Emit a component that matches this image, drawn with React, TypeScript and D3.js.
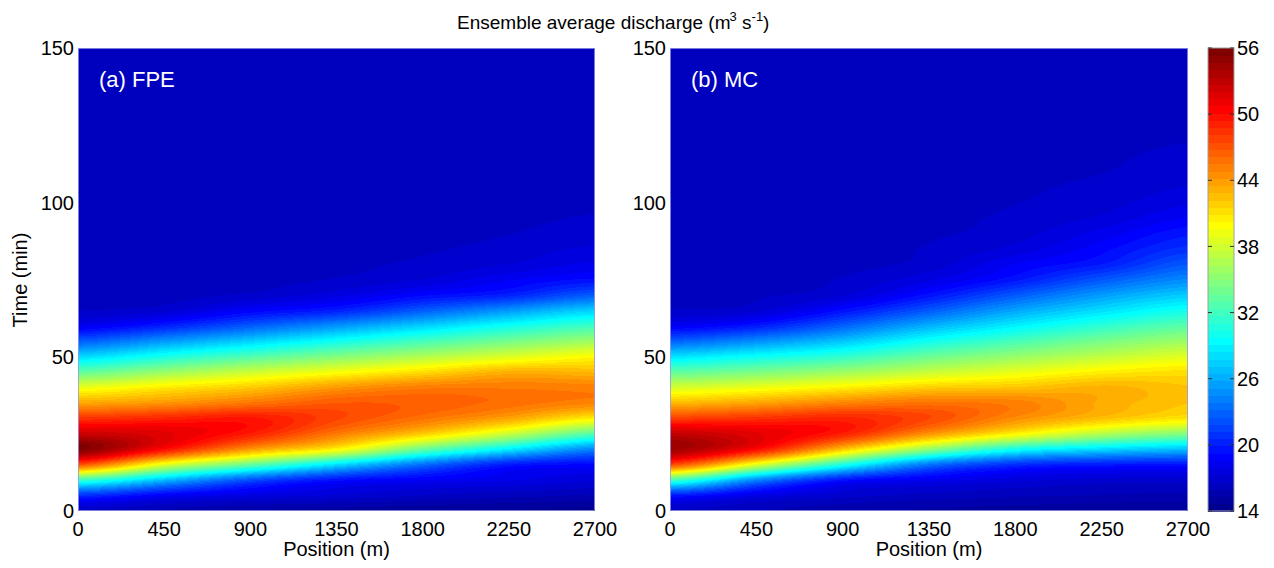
import React, { useMemo } from "react";
import * as d3 from "d3";

// grid nodes
const positions = [0, 450, 900, 1350, 1800, 2250, 2700];
const times = [
  0, 5, 10, 15, 20, 25, 30, 35, 40, 45, 50, 55, 60, 65, 70, 75, 80, 85, 90, 95,
  100, 105, 110, 115, 120, 125, 130, 135, 140, 145, 150,
];
const timeTicks = [0, 50, 100, 150];
const cbarTicks = [14, 20, 26, 32, 38, 44, 50, 56];

// (a) FPE, discharge (m3/s) at each position, one value per time node
const fpe0 = [16.5, 20.8, 31.8, 47.1, 55.6, 52.6, 48.4, 43.6, 39.1, 33.4, 27.9, 22.7, 18.3, 16.6, 16.2, 16.2, 16.2, 16.2, 16.2, 16.2, 16.2, 16.2, 16.2, 16.2, 16.2, 16.2, 16.2, 16.2, 16.2, 16.2, 16.2];
const fpe450 = [15.8, 18.7, 26.7, 38.8, 50.0, 51.6, 49.0, 44.3, 40.7, 35.7, 30.4, 25.2, 20.1, 17.1, 16.3, 16.2, 16.2, 16.2, 16.2, 16.2, 16.2, 16.2, 16.2, 16.2, 16.2, 16.2, 16.2, 16.2, 16.2, 16.2, 16.2];
const fpe900 = [15.3, 17.7, 22.1, 33.5, 44.1, 49.3, 49.6, 45.6, 42.1, 37.8, 32.7, 27.6, 22.6, 18.8, 16.8, 16.3, 16.2, 16.2, 16.2, 16.2, 16.2, 16.2, 16.2, 16.2, 16.2, 16.2, 16.2, 16.2, 16.2, 16.2, 16.2];
const fpe1350 = [15.0, 17.2, 19.5, 28.2, 40.2, 45.4, 47.6, 46.8, 44.1, 39.6, 34.8, 30.0, 25.0, 20.1, 17.7, 16.7, 16.4, 16.2, 16.2, 16.2, 16.2, 16.2, 16.2, 16.2, 16.2, 16.2, 16.2, 16.2, 16.2, 16.2, 16.2];
const fpe1800 = [14.8, 16.6, 18.6, 23.4, 33.7, 42.0, 45.7, 46.6, 45.3, 41.3, 36.7, 32.2, 27.5, 22.6, 19.1, 17.3, 16.8, 16.5, 16.3, 16.2, 16.2, 16.2, 16.2, 16.2, 16.2, 16.2, 16.2, 16.2, 16.2, 16.2, 16.2];
const fpe2250 = [14.6, 16.2, 18.0, 19.9, 28.8, 37.7, 43.6, 45.9, 45.4, 43.1, 38.5, 34.2, 29.9, 25.1, 20.2, 18.5, 17.3, 16.9, 16.6, 16.4, 16.2, 16.2, 16.2, 16.2, 16.2, 16.2, 16.2, 16.2, 16.2, 16.2, 16.2];
const fpe2700 = [14.4, 15.9, 17.4, 19.1, 24.4, 32.9, 40.5, 45.0, 45.2, 42.8, 40.0, 35.9, 31.9, 27.5, 22.6, 19.4, 18.1, 17.4, 17.0, 16.7, 16.4, 16.2, 16.2, 16.2, 16.2, 16.2, 16.2, 16.2, 16.2, 16.2, 16.2];

// (b) MC
const mc0 = [16.5, 19.9, 32.2, 47.5, 54.4, 52.9, 48.0, 42.8, 38.2, 33.3, 28.3, 22.9, 18.5, 16.7, 16.2, 16.2, 16.2, 16.2, 16.2, 16.2, 16.2, 16.2, 16.2, 16.2, 16.2, 16.2, 16.2, 16.2, 16.2, 16.2, 16.2];
const mc450 = [16.0, 17.9, 24.5, 38.8, 50.1, 51.5, 48.5, 43.7, 39.2, 34.5, 29.8, 24.8, 19.9, 17.1, 16.5, 16.2, 16.2, 16.2, 16.2, 16.2, 16.2, 16.2, 16.2, 16.2, 16.2, 16.2, 16.2, 16.2, 16.2, 16.2, 16.2];
const mc900 = [15.5, 16.9, 19.6, 30.5, 42.3, 49.2, 49.0, 45.0, 40.5, 35.9, 31.4, 27.1, 22.9, 19.4, 17.2, 16.7, 16.4, 16.2, 16.2, 16.2, 16.2, 16.2, 16.2, 16.2, 16.2, 16.2, 16.2, 16.2, 16.2, 16.2, 16.2];
const mc1350 = [15.2, 16.4, 18.3, 23.7, 35.4, 44.3, 47.5, 45.7, 41.9, 37.6, 33.8, 30.0, 26.2, 22.5, 19.5, 17.8, 16.9, 16.7, 16.5, 16.35, 16.2, 16.2, 16.2, 16.2, 16.2, 16.2, 16.2, 16.2, 16.2, 16.2, 16.2];
const mc1800 = [15.0, 16.1, 17.5, 20.7, 30.1, 40.3, 44.6, 45.2, 42.3, 39.0, 35.6, 32.3, 28.9, 25.7, 22.5, 19.7, 18.6, 17.5, 17.0, 16.8, 16.6, 16.5, 16.4, 16.3, 16.2, 16.2, 16.2, 16.2, 16.2, 16.2, 16.2];
const mc2250 = [14.8, 15.9, 17.0, 19.9, 28.0, 36.8, 42.5, 43.4, 43.1, 40.5, 37.3, 34.3, 31.2, 28.1, 25.3, 22.4, 19.9, 19.0, 18.2, 17.4, 17.0, 16.8, 16.6, 16.5, 16.4, 16.3, 16.2, 16.2, 16.2, 16.2, 16.2];
const mc2700 = [14.7, 15.8, 16.9, 19.6, 26.8, 34.7, 40.9, 42.25, 42.3, 41.2, 38.7, 35.9, 33.0, 30.1, 27.3, 24.6, 22.5, 20.8, 19.7, 18.6, 17.8, 17.3, 17.0, 16.8, 16.6, 16.45, 16.35, 16.25, 16.2, 16.2, 16.2];

const fpeColumns = [fpe0, fpe450, fpe900, fpe1350, fpe1800, fpe2250, fpe2700];
const mcColumns = [mc0, mc450, mc900, mc1350, mc1800, mc2250, mc2700];

const W = 1274;
const H = 568;
const top = 48;
const bottom = 511;
const font = "'Liberation Sans', Arial, Helvetica, sans-serif";

// MATLAB jet(64)
function jet(m: number) {
  const n = Math.ceil(m / 4);
  const u = (j: number) => {
    if (j < 1 || j > 3 * n - 1) return 0;
    if (j <= n) return j / n;
    if (j <= 2 * n - 1) return 1;
    return (3 * n - j) / n;
  };
  const out: string[] = [];
  for (let i = 1; i <= m; i++) {
    const r = u(i - 24), g = u(i - 8), b = u(i + 8);
    out.push(d3.rgb(r * 255, g * 255, b * 255).formatHex());
  }
  return out;
}
const jetColors = jet(64);
const colorScale = d3.scaleQuantize<string>().domain([14, 56]).range(jetColors);

const panels = [
  { key: "a", label: "(a) FPE", left: 78, right: 595, columns: fpeColumns },
  { key: "b", label: "(b) MC", left: 670, right: 1188, columns: mcColumns },
];

// smooth interpolation between read-off nodes (like shading interp)
function catmull(arr: number[], ri: number) {
  const m = arr.length;
  const i = Math.min(Math.floor(ri), m - 2);
  const f = ri - i;
  const p0 = arr[Math.max(i - 1, 0)], p1 = arr[i], p2 = arr[i + 1], p3 = arr[Math.min(i + 2, m - 1)];
  return 0.5 * (2 * p1 + (-p0 + p2) * f + (2 * p0 - 5 * p1 + 4 * p2 - p3) * f * f + (-p0 + 3 * p1 - 3 * p2 + p3) * f * f * f);
}

function heatRects(columns: number[][], x: d3.ScaleLinear<number, number>, y: d3.ScaleLinear<number, number>) {
  const colIndex = d3.scaleLinear().domain(positions).range(positions.map((_, i) => i)).clamp(true);
  const rowIndex = d3.scaleLinear().domain([times[0], times[times.length - 1]]).range([0, times.length - 1]).clamp(true);
  const [x0, x1] = x.range();
  const rects: { x: number; y: number; w: number; c: string }[] = [];
  const xs = d3.range(x0, x1).map((px) => colIndex(x.invert(px + 0.5)));
  for (let py = top; py < bottom; py++) {
    const ri = rowIndex(y.invert(py + 0.5));
    const colVals = columns.map((col) => catmull(col, ri));
    let runStart = x0;
    let runColor = "";
    xs.forEach((ci, k) => {
      const c = colorScale(catmull(colVals, ci));
      const px = x0 + k;
      if (c !== runColor) {
        if (runColor) rects.push({ x: runStart, y: py, w: px - runStart, c: runColor });
        runStart = px;
        runColor = c;
      }
    });
    rects.push({ x: runStart, y: py, w: x1 - runStart, c: runColor });
  }
  return rects;
}

const Panel = ({ p }: { p: (typeof panels)[number] }) => {
  const x = d3.scaleLinear().domain([0, 2700]).range([p.left, p.right]);
  const y = d3.scaleLinear().domain([0, 150]).range([bottom, top]);
  const rects = useMemo(() => heatRects(p.columns, x, y), [p.key]);
  return (
    <g>
      <g shapeRendering="crispEdges">
        {rects.map((r, i) => (
          <rect key={i} x={r.x} y={r.y} width={r.w} height={1} fill={r.c} />
        ))}
      </g>
      <rect x={p.left + 0.5} y={top + 0.5} width={p.right - p.left - 1} height={bottom - top - 1} fill="none" stroke="#9a9ae0" strokeWidth={0.8} />
      <text x={p.left + 21} y={87} fill="#fff" fontSize={22}>{p.label}</text>
      {timeTicks.map((t) => (
        <text key={t} x={p.left - 4} y={y(t)} dy="0.36em" textAnchor="end" fontSize={20}>{t}</text>
      ))}
      {positions.map((d) => (
        <text key={d} x={x(d)} y={536} textAnchor="middle" fontSize={20}>{d}</text>
      ))}
      <text x={(p.left + p.right) / 2} y={556} textAnchor="middle" fontSize={20}>Position (m)</text>
    </g>
  );
};

const Colorbar = () => {
  const left = 1208, right = 1234;
  const c = d3.scaleLinear().domain([14, 56]).range([bottom, top]);
  const step = 42 / jetColors.length;
  return (
    <g>
      <g shapeRendering="crispEdges">
        {jetColors.map((col, k) => {
          const y1 = c(14 + (k + 1) * step), y0 = c(14 + k * step);
          return <rect key={k} x={left} y={y1} width={right - left} height={y0 - y1 + 0.6} fill={col} />;
        })}
      </g>
      <rect x={left} y={top} width={right - left} height={bottom - top} fill="none" stroke="#a0a0a0" strokeWidth={1} />
      {cbarTicks.map((t) => (
        <g key={t}>
          <line x1={left} x2={left + 4} y1={c(t)} y2={c(t)} stroke="#333" strokeWidth={1} />
          <line x1={right - 4} x2={right} y1={c(t)} y2={c(t)} stroke="#333" strokeWidth={1} />
          <text x={right + 3} y={c(t)} dy="0.36em" fontSize={20}>{t}</text>
        </g>
      ))}
    </g>
  );
};

export default function App() {
  return (
    <svg width={W} height={H} style={{ position: "absolute", left: 0, top: 0, background: "#fff" }} fontFamily={font}>
      <text x={457} y={29} fontSize={19}>
        Ensemble average discharge (m
        <tspan fontSize={13} dx={-1} dy={-8}>3</tspan>
        <tspan dy={8}> s</tspan>
        <tspan fontSize={13} dy={-8}>-1</tspan>
        <tspan dy={8}>)</tspan>
      </text>
      <text transform="translate(27,280) rotate(-90)" textAnchor="middle" fontSize={20}>Time (min)</text>
      {panels.map((p) => (
        <Panel key={p.key} p={p} />
      ))}
      <Colorbar />
    </svg>
  );
}
